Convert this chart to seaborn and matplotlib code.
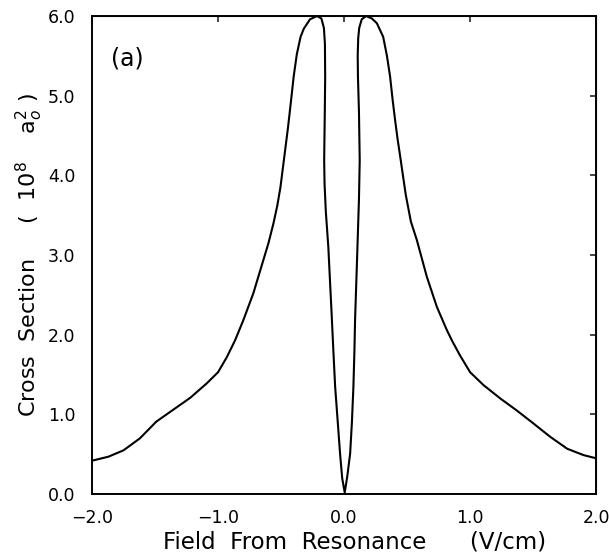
import matplotlib
matplotlib.use("Agg")
import matplotlib.pyplot as plt
import seaborn as sns
import numpy as np
import pandas as pd

# curve traced along its path (goes up, loops over the peak and back down to zero)
field = [-2.0, -1.87, -1.75, -1.62, -1.49, -1.355, -1.22, -1.09, -1.0, -0.93, -0.865,
         -0.80, -0.72, -0.64, -0.60, -0.56, -0.53, -0.505, -0.485, -0.465, -0.445,
         -0.42, -0.40, -0.375, -0.345, -0.32, -0.27, -0.215, -0.18, -0.16, -0.152, -0.15,
         -0.153, -0.158, -0.155, -0.145, -0.125, -0.10, -0.085, -0.071, -0.05, -0.032,
         -0.015, 0.005,
         0.025, 0.048, 0.062, 0.074, 0.082, 0.087, 0.106, 0.118, 0.124, 0.118, 0.110,
         0.108, 0.112, 0.12, 0.14, 0.175, 0.22, 0.26, 0.31, 0.34, 0.365,
         0.385, 0.405, 0.425, 0.444, 0.465, 0.49, 0.53, 0.577, 0.656, 0.736, 0.815, 0.855, 0.92,
         1.0, 1.105, 1.24, 1.37, 1.50, 1.635, 1.77, 1.90, 2.0]
cross = [0.42, 0.47, 0.55, 0.70, 0.91, 1.06, 1.21, 1.39, 1.53, 1.72, 1.93,
         2.18, 2.52, 2.94, 3.15, 3.40, 3.62, 3.85, 4.10, 4.35, 4.60,
         4.95, 5.24, 5.52, 5.74, 5.84, 5.96, 6.0, 5.97, 5.85, 5.65, 5.24,
         4.80, 4.19, 3.90, 3.55, 3.10, 2.30, 1.80, 1.35, 0.90, 0.51,
         0.20, 0.02,
         0.22, 0.51, 0.90, 1.35, 1.80, 2.18, 3.10, 3.70, 4.19, 4.80, 5.24,
         5.50, 5.72, 5.85, 5.96, 6.0, 5.97, 5.91, 5.74, 5.50, 5.24,
         4.95, 4.69, 4.45, 4.25, 4.02, 3.75, 3.42, 3.19, 2.73, 2.35, 2.06, 1.93, 1.74,
         1.53, 1.37, 1.20, 1.05, 0.89, 0.72, 0.57, 0.49, 0.45]

xticks = [-2.0, -1.0, 0.0, 1.0, 2.0]
xtick_labels = ["\u22122.0", "\u22121.0", "0.0", "1.0", "2.0"]
yticks = [0.0, 1.0, 2.0, 3.0, 4.0, 5.0, 6.0]
ytick_labels = ["0.0", "1.0", "2.0", "3.0", "4.0", "5.0", "6.0"]

sns.set_style("white")
plt.rcParams['font.family'] = ['DejaVu Sans']
plt.rcParams['text.color'] = "black"
plt.rcParams['axes.labelcolor'] = "black"

df = pd.DataFrame({"field": field, "cross": cross})

fig = plt.figure(figsize=(6.09, 5.54), dpi=100)
ax = fig.add_axes([0.151, 0.108, 0.828, 0.863])

sns.lineplot(data=df, x="field", y="cross", sort=False, estimator=None,
             color="black", linewidth=1.5, ax=ax)

ax.set_xlim(-2.0, 2.0)
ax.set_ylim(0.0, 6.0)
ax.set_xticks(xticks, xtick_labels)
ax.set_yticks(yticks, ytick_labels)
ax.tick_params(axis="both", direction="in", length=7, width=1.3,
               labelsize=12.5, colors="black")
ax.tick_params(axis="x", pad=11)
ax.tick_params(axis="y", pad=12)
for s in ax.spines.values():
    s.set_color("black")
    s.set_linewidth(1.4)

# shorter ticks on top and right
top = ax.secondary_xaxis("top")
top.set_xticks(xticks, [])
top.tick_params(direction="in", length=4, width=1.2)
right = ax.secondary_yaxis("right")
right.set_yticks(yticks, [])
right.tick_params(direction="in", length=4, width=1.2)

ax.set_xlabel("Field  From  Resonance      (V/cm)", fontsize=16.5, labelpad=0)
ax.xaxis.set_label_coords(0.52, -0.075)
ax.set_ylabel(r"Cross  Section     (  10$^{8}$    a$_{o}^{2}$ )", fontsize=16, labelpad=2)

ax.text(-1.72, 5.47, "(a)", fontsize=17, ha="center", va="center")

fig.savefig("out.png", dpi=100)
